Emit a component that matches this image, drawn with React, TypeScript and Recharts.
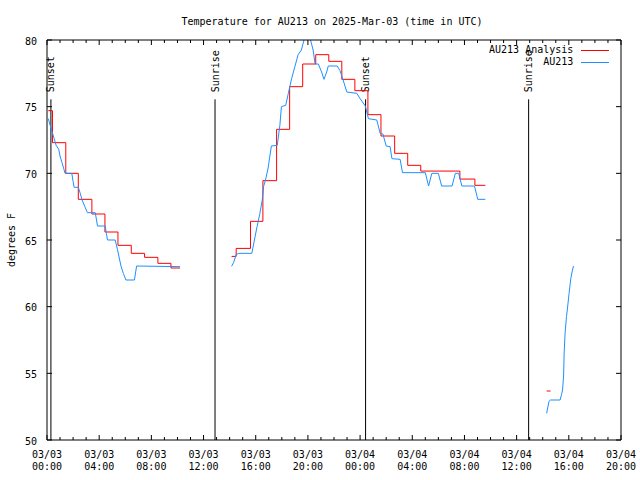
import React from "react";
import { LineChart, Line, XAxis, YAxis, ReferenceLine } from "recharts";

// ─── Data ─────────────────────────────────────────────────────────────────────

const FONT = "'DejaVu Sans Mono', 'Liberation Mono', monospace";

const X_MAJOR = [0, 4, 8, 12, 16, 20, 24, 28, 32, 36, 40, 44];
const X_DATES = [
  "03/03", "03/03", "03/03", "03/03", "03/03", "03/03",
  "03/04", "03/04", "03/04", "03/04", "03/04", "03/04",
];
const X_TIMES = [
  "00:00", "04:00", "08:00", "12:00", "16:00", "20:00",
  "00:00", "04:00", "08:00", "12:00", "16:00", "20:00",
];
const X_MINOR = Array.from({ length: 45 }, (_, i) => i);
const Y_TICKS = [50, 55, 60, 65, 70, 75, 80];

// hours since 03/03 00:00 UTC, degrees F
const OBS_NIGHT: [number, number][] = [
  [0.1, 74.1], [0.3, 73.4], [0.55, 72.6], [0.7, 72.1], [0.9, 71.8], [1.0, 71.3],
  [1.15, 70.8], [1.3, 70.3], [1.38, 70.0], [1.9, 70.0], [2.0, 69.4], [2.08, 68.95],
  [2.4, 68.95], [2.55, 68.5], [2.67, 68.05], [2.9, 67.5], [3.1, 67.05], [3.7, 67.05],
  [3.87, 66.05], [4.46, 66.05], [4.55, 65.5], [4.64, 65.0], [5.23, 65.0], [5.4, 64.3],
  [5.67, 63.05], [5.85, 62.5], [6.05, 62.0], [6.7, 62.0], [6.87, 63.05], [10.2, 63.0],
];
const OBS_DAY: [number, number][] = [
  [14.15, 63.03], [14.3, 63.3], [14.5, 63.9], [14.7, 64.0], [15.7, 64.0], [15.9, 65.0],
  [16.1, 66.0], [16.3, 66.9], [16.5, 68.0], [16.6, 69.0], [16.75, 69.5], [16.95, 70.4],
  [17.13, 71.6], [17.2, 72.05], [17.65, 72.1], [17.85, 73.6], [17.97, 75.0], [18.3, 75.1],
  [18.5, 76.0], [18.75, 77.1], [19.0, 78.0], [19.25, 78.9], [19.5, 79.25], [19.7, 80.0],
  [19.85, 80.5], [20.05, 80.5], [20.2, 80.0], [20.4, 79.25], [20.55, 78.2], [20.8, 78.2],
  [21.05, 77.6], [21.23, 77.05], [21.44, 77.6], [21.56, 78.05], [22.25, 78.05], [22.46, 77.7],
  [22.7, 77.0], [22.98, 76.1], [23.75, 76.0], [24.0, 75.6], [24.4, 75.05], [24.64, 74.1],
  [25.28, 74.0], [25.54, 73.0], [25.75, 72.95], [26.0, 72.05], [26.3, 72.0], [26.44, 71.1],
  [27.07, 71.05], [27.25, 70.05], [29.0, 70.05], [29.25, 69.05], [29.5, 70.0], [30.0, 70.0],
  [30.25, 69.05], [31.05, 69.05], [31.3, 70.0], [31.56, 70.0], [31.8, 69.05], [32.77, 69.05],
  [33.02, 68.05], [33.6, 68.05],
];
const OBS_MORNING: [number, number][] = [
  [38.3, 52.0], [38.48, 52.9], [38.6, 53.0], [39.33, 53.0], [39.44, 53.4], [39.52, 53.75],
  [39.6, 54.8], [39.64, 56.45], [39.72, 58.1], [39.82, 59.25], [39.9, 59.9], [40.02, 61.0],
  [40.15, 62.1], [40.28, 62.75], [40.36, 63.05],
];

const ANA_NIGHT: [number, number][] = [
  [0.1, 74.7], [0.42, 72.3], [1.44, 70.0], [2.4, 68.05], [3.44, 66.95], [4.44, 65.6],
  [5.44, 64.6], [6.46, 64.0], [7.48, 63.7], [8.5, 63.25], [9.5, 62.9], [10.2, 62.9],
];
const ANA_DAY: [number, number][] = [
  [14.15, 63.77], [14.5, 64.37], [15.6, 66.4], [16.55, 69.45], [17.6, 73.3], [18.6, 76.5],
  [19.6, 78.2], [20.6, 78.9], [21.6, 78.4], [22.6, 77.05], [23.6, 76.2], [24.6, 74.4],
  [25.6, 72.8], [26.65, 71.5], [27.65, 70.6], [28.65, 70.17], [31.65, 69.57], [32.8, 69.1],
  [33.6, 69.1],
];
const ANA_MORNING: [number, number][] = [[38.3, 53.675], [38.6, 53.675]];

const SUN_HOURS = [0.3, 12.88, 24.42, 36.92];
const SUN_NAMES = ["Sunset", "Sunrise", "Sunset", "Sunrise"];
const SUN_TOP = 75.55;

// ─── Helpers ──────────────────────────────────────────────────────────────────

const join = (...segs: [number, number][][]) => {
  const out: { h: number; t: number | null }[] = [];
  segs.forEach((s, i) => {
    if (i > 0) out.push({ h: (s[0][0] + out[out.length - 1].h) / 2, t: null });
    s.forEach(([h, t]) => out.push({ h, t }));
  });
  return out;
};

const obsData = join(OBS_NIGHT, OBS_DAY, OBS_MORNING);
const anaData = join(ANA_NIGHT, ANA_DAY, ANA_MORNING);

function BottomTick({ x, y, payload }: any) {
  const i = X_MAJOR.indexOf(payload.value);
  const major = i >= 0;
  return (
    <g>
      <line x1={x} x2={x} y1={y} y2={y - (major ? 5 : 3)} stroke="#000" />
      {major && (
        <text textAnchor="middle" fontFamily={FONT} fontSize={10} fill="#000">
          <tspan x={x} y={y + 18.3}>{X_DATES[i]}</tspan>
          <tspan x={x} y={y + 30}>{X_TIMES[i]}</tspan>
        </text>
      )}
    </g>
  );
}

function TopTick({ x, y, payload }: any) {
  const major = X_MAJOR.includes(payload.value);
  return <line x1={x} x2={x} y1={y} y2={y + (major ? 5 : 3)} stroke="#000" />;
}

function LeftTick({ x, y, payload }: any) {
  return (
    <g>
      <line x1={x} x2={x + 5} y1={y} y2={y} stroke="#000" />
      <text x={x - 10} y={y + 4.8} textAnchor="end" fontFamily={FONT} fontSize={10} fill="#000">
        {payload.value}
      </text>
    </g>
  );
}

function RightTick({ x, y }: any) {
  return <line x1={x} x2={x - 5} y1={y} y2={y} stroke="#000" />;
}

function YTitle() {
  return (
    <text
      x={11}
      y={240}
      transform="rotate(-90 11 240)"
      textAnchor="middle"
      dy="0.35em"
      fontFamily={FONT}
      fontSize={10}
      fill="#000"
    >
      degrees F
    </text>
  );
}

function SunLabel({ viewBox, text }: any) {
  const x = viewBox.x;
  const y = viewBox.y - 7;
  return (
    <text
      x={x}
      y={y}
      transform={`rotate(-90 ${x} ${y})`}
      dy="0.35em"
      textAnchor="start"
      fontFamily={FONT}
      fontSize={10}
      fill="#000"
    >
      {text}
    </text>
  );
}

// ─── Chart ────────────────────────────────────────────────────────────────────

export default function App() {
  const legend = [
    { label: "AU213 Analysis", color: "#ff0000" },
    { label: "AU213", color: "#1e90ff" },
  ];

  return (
    <div
      style={{
        position: "absolute",
        left: 0,
        top: 0,
        width: 640,
        height: 480,
        background: "#fff",
        fontFamily: FONT,
        fontSize: 10,
      }}
    >
      <div
        style={{
          position: "absolute",
          left: 0,
          width: 664,
          top: 15.5,
          lineHeight: "12px",
          textAlign: "center",
          whiteSpace: "pre",
        }}
      >
        Temperature for AU213 on 2025-Mar-03 (time in UTC)
      </div>

      <LineChart
        width={640}
        height={480}
        margin={{ top: 39, right: 18, bottom: 0, left: 0 }}
      >
        <XAxis
          xAxisId="b"
          type="number"
          dataKey="h"
          domain={[0, 44]}
          ticks={X_MINOR}
          interval={0}
          height={40}
          tickSize={0}
          tickMargin={0}
          tickLine={false}
          tick={<BottomTick />}
          axisLine={{ stroke: "#000" }}
          allowDataOverflow
        />
        <XAxis
          xAxisId="t"
          orientation="top"
          type="number"
          dataKey="h"
          domain={[0, 44]}
          ticks={X_MINOR}
          interval={0}
          height={1}
          tickSize={0}
          tickMargin={0}
          tickLine={false}
          tick={<TopTick />}
          axisLine={{ stroke: "#000" }}
          allowDataOverflow
        />
        <YAxis
          yAxisId="l"
          type="number"
          domain={[50, 80]}
          ticks={Y_TICKS}
          interval={0}
          width={47}
          tickSize={0}
          tickMargin={0}
          tickLine={false}
          tick={<LeftTick />}
          axisLine={{ stroke: "#000" }}
          label={<YTitle />}
          allowDataOverflow
        />
        <YAxis
          yAxisId="r"
          orientation="right"
          type="number"
          domain={[50, 80]}
          ticks={Y_TICKS}
          interval={0}
          width={1}
          tickSize={0}
          tickMargin={0}
          tickLine={false}
          tick={<RightTick />}
          axisLine={{ stroke: "#000" }}
          allowDataOverflow
        />

        {SUN_HOURS.map((h, i) => (
          <ReferenceLine
            key={i}
            xAxisId="b"
            yAxisId="l"
            segment={[
              { x: h, y: SUN_TOP },
              { x: h, y: 50 },
            ]}
            stroke="#000"
            strokeWidth={1}
            label={<SunLabel text={SUN_NAMES[i]} />}
          />
        ))}

        <Line
          xAxisId="b"
          yAxisId="l"
          data={anaData}
          dataKey="t"
          type="stepAfter"
          stroke="#ff0000"
          strokeWidth={1}
          dot={false}
          connectNulls={false}
          isAnimationActive={false}
        />
        <Line
          xAxisId="b"
          yAxisId="l"
          data={obsData}
          dataKey="t"
          type="linear"
          stroke="#1e90ff"
          strokeWidth={1}
          dot={false}
          connectNulls={false}
          isAnimationActive={false}
        />
      </LineChart>

      {/* Legend */}
      <div style={{ position: "absolute", right: 30.7, top: 43.8 }}>
        {legend.map((l) => (
          <div
            key={l.label}
            style={{
              display: "flex",
              justifyContent: "flex-end",
              alignItems: "center",
              height: 12.5,
              lineHeight: "12.5px",
              whiteSpace: "pre",
            }}
          >
            <span>{l.label}</span>
            <span
              style={{
                display: "inline-block",
                width: 28,
                height: 1,
                marginLeft: 8,
                background: l.color,
              }}
            />
          </div>
        ))}
      </div>
    </div>
  );
}
